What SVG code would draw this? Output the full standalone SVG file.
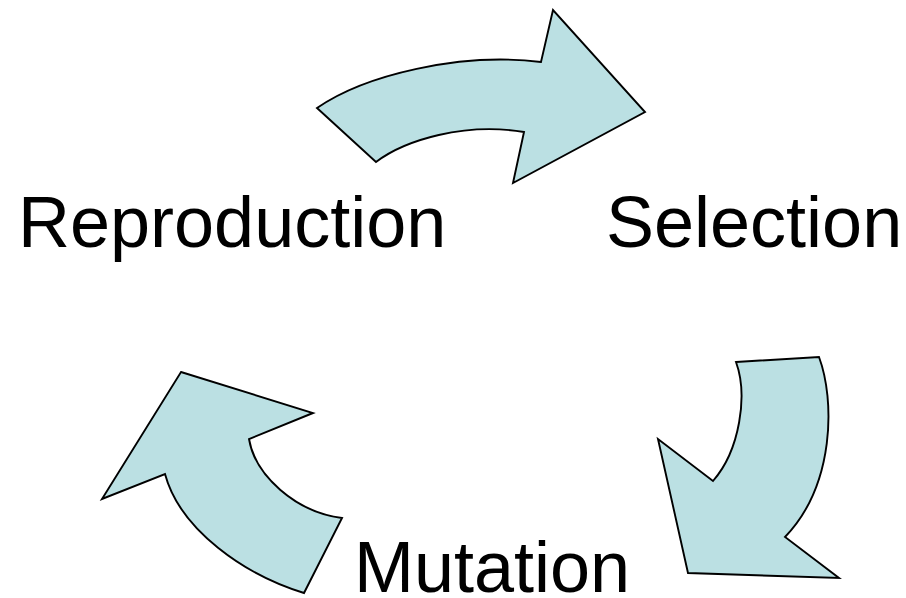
<svg xmlns="http://www.w3.org/2000/svg" width="906" height="598" viewBox="0 0 906 598">
<style>
.arrow{fill:#bbe0e3;stroke:#000;stroke-width:1.9;stroke-linejoin:miter}
.lbl{font-family:"Liberation Sans",Arial,sans-serif;font-size:72px;fill:#000}
</style>
<rect width="906" height="598" fill="#fff"/>
<g id="connectors">
<path id="arrow-top" class="arrow" d="M317,108 L376,162 C405,140 465,122 524,132 L513,183 L645,112 L553,10 L541,62 C460,52 365,75 317,108 Z"/>
<path id="arrow-right" class="arrow" d="M736,362 L819,357 C835,400 835,485 785,537 L839,578 L688,573 L658,439 L713,481 C740,450 748,395 736,362 Z"/>
<path id="arrow-left" class="arrow" d="M181,372 L313,413 L249,439 C255,475 295,512 342,518 L304,593 C245,575 180,530 165,474 L102,499 Z"/>
</g>
<g id="node-reproduction"><text class="lbl" x="18" y="247">Reproduction</text></g>
<g id="node-selection"><text class="lbl" x="606" y="247">Selection</text></g>
<g id="node-mutation"><text class="lbl" x="354" y="592">Mutation</text></g>
</svg>
